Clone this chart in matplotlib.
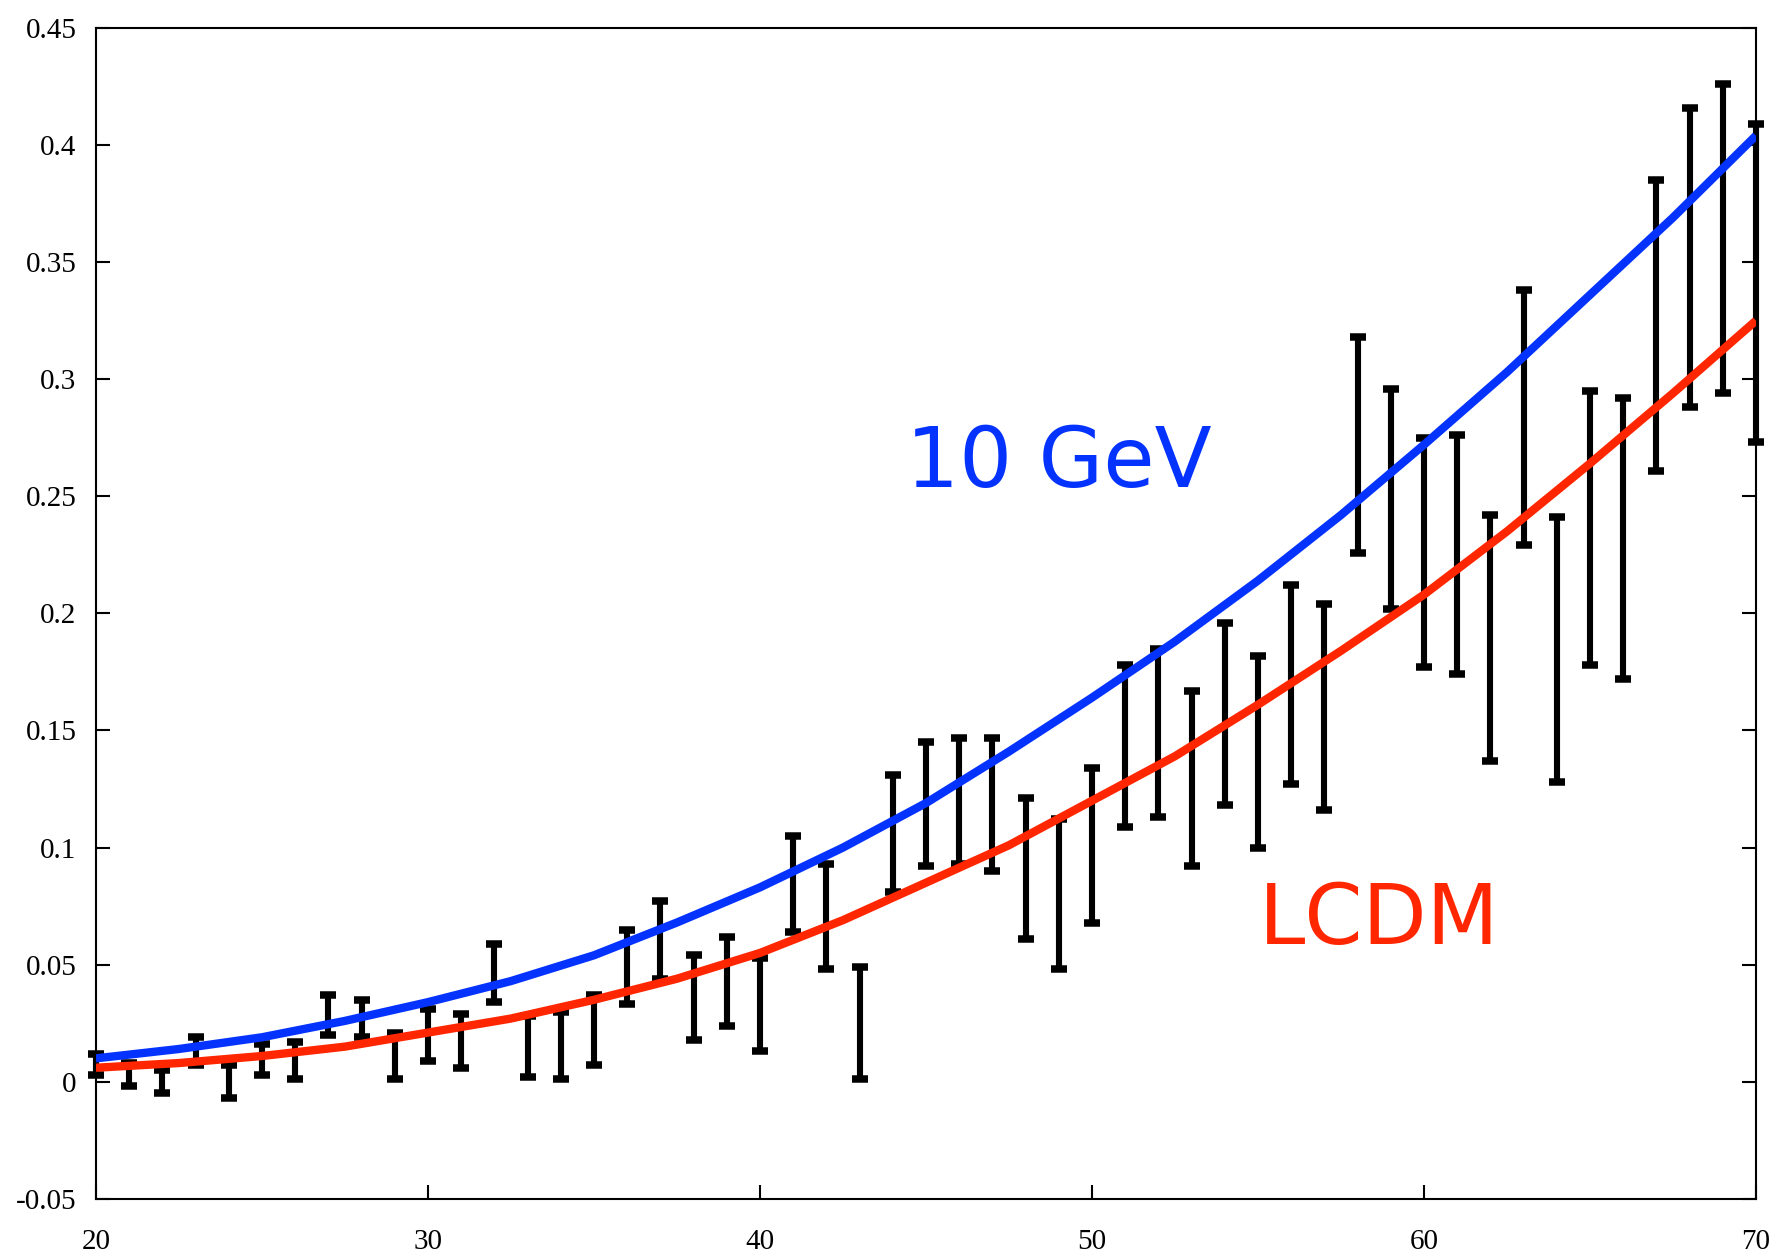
import numpy as np
import matplotlib
matplotlib.use( 'Agg' )
import matplotlib.pyplot as plt

# error bars, one per integer x as (low, high)
x_bars = np.arange( 20, 71 )
bar_lo = [ 0.003, -0.002, -0.005, 0.007, -0.007, 0.003, 0.001, 0.020, 0.019, 0.001,
	0.009, 0.006, 0.034, 0.002, 0.001, 0.007, 0.033, 0.044, 0.018, 0.024,
	0.013, 0.064, 0.048, 0.001, 0.081, 0.092, 0.093, 0.090, 0.061, 0.048,
	0.068, 0.109, 0.113, 0.092, 0.118, 0.100, 0.127, 0.116, 0.226, 0.202,
	0.177, 0.174, 0.137, 0.229, 0.128, 0.178, 0.172, 0.261, 0.288, 0.294,
	0.273 ]
bar_hi = [ 0.012, 0.008, 0.005, 0.019, 0.007, 0.016, 0.017, 0.037, 0.035, 0.021,
	0.031, 0.029, 0.059, 0.028, 0.030, 0.037, 0.065, 0.077, 0.054, 0.062,
	0.053, 0.105, 0.093, 0.049, 0.131, 0.145, 0.147, 0.147, 0.121, 0.112,
	0.134, 0.178, 0.185, 0.167, 0.196, 0.182, 0.212, 0.204, 0.318, 0.296,
	0.275, 0.276, 0.242, 0.338, 0.241, 0.295, 0.292, 0.385, 0.416, 0.426,
	0.409 ]

# model curves, every 2.5 in x
x_curve = [ 20, 22.5, 25, 27.5, 30, 32.5, 35, 37.5, 40, 42.5, 45,
	47.5, 50, 52.5, 55, 57.5, 60, 62.5, 65, 67.5, 70 ]
gev10 = [ 0.010, 0.014, 0.019, 0.026, 0.034, 0.043, 0.054, 0.068, 0.083, 0.100, 0.119,
	0.141, 0.164, 0.188, 0.214, 0.242, 0.272, 0.303, 0.336, 0.369, 0.404 ]
lcdm = [ 0.006, 0.008, 0.011, 0.015, 0.021, 0.027, 0.035, 0.044, 0.055, 0.069, 0.085,
	0.101, 0.120, 0.139, 0.161, 0.184, 0.208, 0.235, 0.264, 0.294, 0.325 ]

x_ticks = [ 20, 30, 40, 50, 60, 70 ]
y_ticks = [ -0.05, 0, 0.05, 0.1, 0.15, 0.2, 0.25, 0.3, 0.35, 0.4, 0.45 ]
y_labels = [ '-0.05', '0', '0.05', '0.1', '0.15', '0.2', '0.25', '0.3', '0.35', '0.4', '0.45' ]

blue = '#0433FF'
red = '#FF2600'

fig = plt.figure( figsize=( 17.76, 12.58 ), dpi=100 )
ax = fig.add_axes( [ 0.054, 0.047, 0.9347, 0.9308 ] )

lo = np.array( bar_lo )
hi = np.array( bar_hi )
mid = ( lo + hi ) / 2
err = ( hi - lo ) / 2
ax.errorbar( x_bars, mid, yerr=err, fmt='none', ecolor='black', elinewidth=4.4,
	capsize=5.6, capthick=5.4, clip_on=False, zorder=2 )

ax.plot( x_curve, gev10, color=blue, lw=6, zorder=3, solid_capstyle='butt' )
ax.plot( x_curve, lcdm, color=red, lw=6, zorder=3, solid_capstyle='butt' )

# curve labels (the original uses a comic-style face, not installed here)
ax.text( 49.0, 0.254, '10 GeV', color=blue, fontsize=60, ha='center', va='baseline',
	family='DejaVu Sans' )
ax.text( 58.66, 0.059, 'LCDM', color=red, fontsize=60, ha='center', va='baseline',
	family='DejaVu Sans' )

ax.set_xlim( 20, 70 )
ax.set_ylim( -0.05, 0.45 )
ax.set_xticks( x_ticks )
ax.set_xticklabels( [ str( t ) for t in x_ticks ] )
ax.set_yticks( y_ticks )
ax.set_yticklabels( y_labels )

for lab in ax.get_xticklabels() + ax.get_yticklabels():
	lab.set_family( 'Liberation Serif' )
	lab.set_fontsize( 21 )

ax.tick_params( axis='both', direction='in', length=10, width=1.5, top=False, right=True )
ax.tick_params( axis='x', pad=22 )
ax.tick_params( axis='y', pad=14 )
for s in ax.spines.values():
	s.set_linewidth( 1.5 )

fig.savefig( 'out.png', dpi=100 )
